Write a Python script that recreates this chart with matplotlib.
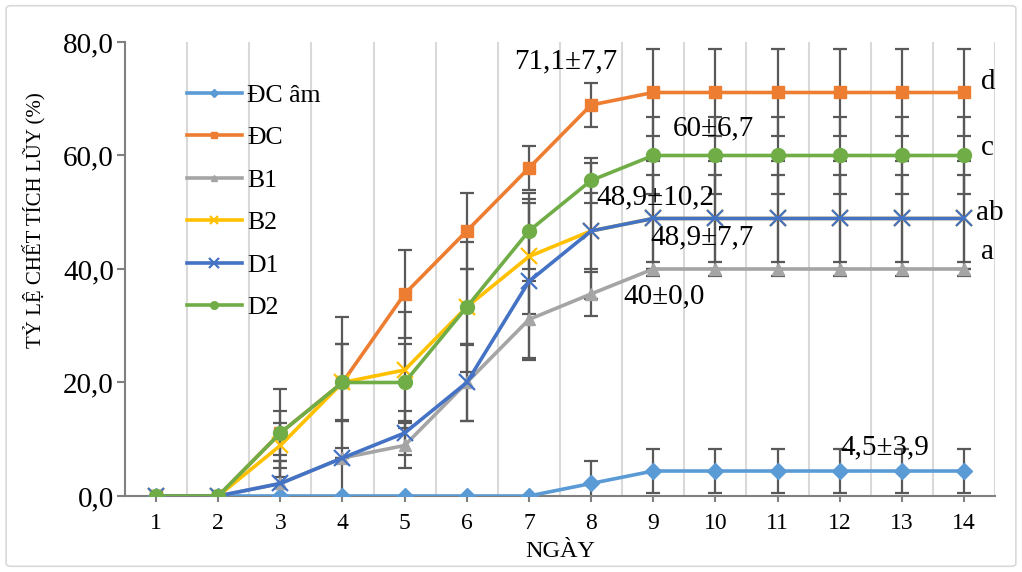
import numpy as np
import matplotlib
matplotlib.use('Agg')
import matplotlib.pyplot as plt
from matplotlib.ticker import FuncFormatter, FixedLocator
from matplotlib.patches import FancyBboxPatch

plt.rcParams['font.family'] = ['Liberation Serif', 'DejaVu Serif']

days = list(range(1, 15))

# mean cumulative mortality (%)
dc_am = [0, 0, 0, 0, 0, 0, 0, 2.2, 4.4, 4.4, 4.4, 4.4, 4.4, 4.4]
dc = [0, 0, 11.1, 20, 35.6, 46.7, 57.8, 68.9, 71.1, 71.1, 71.1, 71.1, 71.1, 71.1]
b1 = [0, 0, 2.2, 6.7, 8.9, 20, 31.1, 35.6, 40, 40, 40, 40, 40, 40]
b2 = [0, 0, 8.9, 20, 22.2, 33.3, 42.2, 46.7, 48.9, 48.9, 48.9, 48.9, 48.9, 48.9]
d1 = [0, 0, 2.2, 6.7, 11.1, 20, 37.8, 46.7, 48.9, 48.9, 48.9, 48.9, 48.9, 48.9]
d2 = [0, 0, 11.1, 20, 20, 33.3, 46.7, 55.6, 60, 60, 60, 60, 60, 60]

# standard deviations
dc_am_sd = [0, 0, 0, 0, 0, 0, 0, 3.9, 3.9, 3.9, 3.9, 3.9, 3.9, 3.9]
dc_sd = [0, 0, 7.7, 11.5, 7.7, 6.7, 3.9, 3.9, 7.7, 7.7, 7.7, 7.7, 7.7, 7.7]
b1_sd = [0, 0, 3.9, 0, 3.9, 6.7, 6.7, 3.9, 0, 0, 0, 0, 0, 0]
b2_sd = [0, 0, 3.9, 6.7, 10.2, 11.5, 10.2, 12.0, 10.2, 10.2, 10.2, 10.2, 10.2, 10.2]
d1_sd = [0, 0, 3.9, 6.7, 3.9, 6.7, 13.9, 6.7, 7.7, 7.7, 7.7, 7.7, 7.7, 7.7]
d2_sd = [0, 0, 3.9, 6.7, 6.7, 6.7, 6.7, 3.9, 6.7, 6.7, 6.7, 6.7, 6.7, 6.7]

names = ['ĐC âm', 'ĐC', 'B1', 'B2', 'D1', 'D2']
colors = ['#5B9BD5', '#ED7D31', '#A5A5A5', '#FFC000', '#4472C4', '#70AD47']
markers = ['D', 's', '^', 'x', 'x', 'o']
msizes = [8, 9, 9, 11, 12, 10]
means = [dc_am, dc, b1, b2, d1, d2]
sds = [dc_am_sd, dc_sd, b1_sd, b2_sd, d1_sd, d2_sd]

# annotation texts and their positions
ann_text = ['71,1±7,7', '60±6,7', '48,9±10,2', '48,9±7,7', '40±0,0', '4,5±3,9']
ann_x = [7.6, 9.96, 9.04, 9.78, 9.18, 12.73]
ann_y = [76.5, 64.8, 52.7, 45.6, 35.1, 8.6]
letters = ['d', 'c', 'ab', 'a']
letter_y = [73, 61.3, 49.9, 43]

fig = plt.figure(figsize=(10.22, 5.72), dpi=100)
ax = fig.add_axes([0.1223, 0.1329, 0.8513, 0.7937])

# outer chart border
fig.patches.append(FancyBboxPatch((0.006, 0.01), 0.988, 0.98, boxstyle='round,pad=0,rounding_size=0.005',
                                  transform=fig.transFigure, fill=False, edgecolor='#d9d9d9', linewidth=1.2))

for m, s in zip(means, sds):
    ax.errorbar(days, m, yerr=s, fmt='none', ecolor='#595959', elinewidth=1.6,
                capsize=5, capthick=1.6, zorder=2)

for name, m, c, mk, ms in zip(names, means, colors, markers, msizes):
    mew = 1.6 if mk == 'x' else 1
    ax.plot(days, m, color=c, linewidth=2.6, marker=mk, markersize=ms,
            markeredgewidth=mew, label=name, zorder=3)

for t, x, y in zip(ann_text, ann_x, ann_y):
    ax.text(x, y, t, fontsize=21, ha='center', va='center', zorder=4)
for t, y in zip(letters, letter_y):
    ax.text(14.2 if t == 'ab' else 14.28, y, t, fontsize=21, ha='left', va='center', zorder=4)

ax.set_xlim(0.5, 14.5)
ax.set_ylim(0, 80)
ax.set_yticks([0, 20, 40, 60, 80])
ax.yaxis.set_major_formatter(FuncFormatter(lambda v, p: ('%.1f' % v).replace('.', ',')))
ax.set_xticks(days)
ax.xaxis.set_minor_locator(FixedLocator(np.arange(1.5, 14.6, 1)))
ax.grid(which='minor', axis='x', color='#d9d9d9', linewidth=1.5)
ax.tick_params(axis='x', which='major', labelsize=17, length=4, width=1.5, color='#808080', pad=8)
ax.tick_params(axis='x', which='minor', length=0)
ax.tick_params(axis='y', labelsize=21, length=6, color='#808080', width=1.5, pad=2)

for sp in ['top', 'right']:
    ax.spines[sp].set_visible(False)
for sp in ['left', 'bottom']:
    ax.spines[sp].set_color('#808080')
    ax.spines[sp].set_linewidth(1.5)

ax.set_xlabel('NGÀY', fontsize=17.5, labelpad=5)
ax.set_ylabel('TỶ LỆ CHẾT TÍCH LŨY (%)', fontsize=15, labelpad=9)
ax.yaxis.set_label_coords(-0.091, 0.608)

ax.legend(loc='upper left', bbox_to_anchor=(0.071, 0.908), frameon=False, fontsize=18.5,
          handlelength=2.15, labelspacing=0.76, handletextpad=0.2, borderaxespad=0,
          borderpad=0, markerscale=0.55)

fig.savefig('out.png', dpi=100)
